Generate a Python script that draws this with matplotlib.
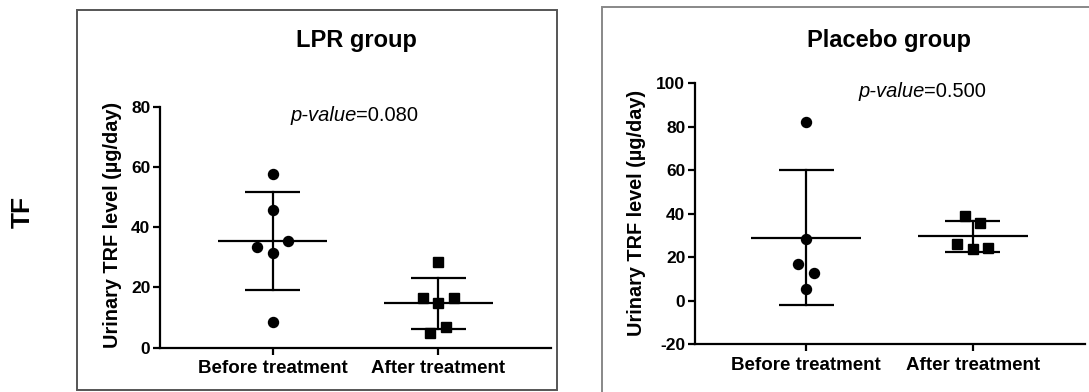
import numpy as np
import matplotlib
matplotlib.use("Agg")
import matplotlib.pyplot as plt
from matplotlib.patches import Rectangle

# ---------------- data ----------------
categories = ["Before treatment", "After treatment"]
row_label = "TF"
panel_titles = ["LPR group", "Placebo group"]
p_values = ["0.080", "0.500"]
y_label = "Urinary TRF level (\u00b5g/day)"

lpr_before = [57.5, 45.7, 33.5, 35.5, 31.3, 8.6]
lpr_after = [28.5, 16.6, 16.6, 14.7, 4.8, 7.0]
placebo_before = [82.3, 28.2, 16.7, 12.5, 5.2]
placebo_after = [38.9, 35.5, 25.9, 24.0, 23.6]

lpr_yticks = [0, 20, 40, 60, 80]
placebo_yticks = [-20, 0, 20, 40, 60, 80, 100]

# ---------------- layout ----------------
W, H = 1089, 392
plt.rcParams['font.family'] = ['Liberation Sans', 'DejaVu Sans']
fig = plt.figure(figsize=(W / 100, H / 100), dpi=100)


def fx(px):
    return px / W


def fy(py):
    return 1 - py / H


# frames around panels
fig.patches.append(Rectangle((fx(77), fy(390)), fx(557) - fx(77), fy(10) - fy(390),
                             transform=fig.transFigure, fill=False,
                             edgecolor='#555555', linewidth=1.4))
fig.patches.append(Rectangle((fx(602), fy(400)), fx(1100) - fx(602), fy(7) - fy(400),
                             transform=fig.transFigure, fill=False,
                             edgecolor='#888888', linewidth=1.4))

ax1 = fig.add_axes([fx(160), fy(347.7), fx(550.7) - fx(160), fy(106.7) - fy(347.7)])
ax2 = fig.add_axes([fx(695), fy(344), fx(1085) - fx(695), fy(83.3) - fy(344)])

panels = [
    (ax1, [lpr_before, lpr_after], (0, 80), lpr_yticks, (-0.68, 1.679)),
    (ax2, [placebo_before, placebo_after], (-20, 100), placebo_yticks, (-0.666, 1.674)),
]

markers = ['o', 's']
marker_sizes = [7.2, 6.8]
spacing_px = 15.5
overlap_px = 10.0
mean_half = 0.33
cap_half = 0.165
lw = 1.6


def swarm_offsets(vals, px_per_unit):
    vals = list(vals)
    order = sorted(range(len(vals)), key=lambda i: vals[i])
    clusters = []
    cur = [order[0]]
    for a, b in zip(order[:-1], order[1:]):
        if (vals[b] - vals[a]) * px_per_unit < overlap_px:
            cur.append(b)
        else:
            clusters.append(cur)
            cur = [b]
    clusters.append(cur)
    offs = [0.0] * len(vals)
    slots = {1: [0.0], 2: [-0.5, 0.5], 3: [-1.0, 1.0, 0.0]}
    for c in clusters:
        c_sorted = sorted(c)  # listing order
        s = slots.get(len(c), list(np.linspace(-(len(c) - 1) / 2, (len(c) - 1) / 2, len(c))))
        for idx, sl in zip(c_sorted, s):
            offs[idx] = sl
    return offs


for ax, groups, ylim, yticks, xlim in panels:
    ax.set_xlim(*xlim)
    ax.set_ylim(*ylim)
    bbox = ax.get_position()
    ax_h_px = bbox.height * H
    ax_w_px = bbox.width * W
    py_unit = ax_h_px / (ylim[1] - ylim[0])
    px_xunit = ax_w_px / (xlim[1] - xlim[0])
    for gi, vals in enumerate(groups):
        v = np.array(vals, dtype=float)
        m = v.mean()
        sd = v.std(ddof=1)
        ax.plot([gi - mean_half, gi + mean_half], [m, m], color='black', lw=lw,
                solid_capstyle='butt', zorder=2)
        ax.plot([gi, gi], [m - sd, m + sd], color='black', lw=lw, zorder=2)
        for yy in (m - sd, m + sd):
            ax.plot([gi - cap_half, gi + cap_half], [yy, yy], color='black', lw=lw,
                    solid_capstyle='butt', zorder=2)
        offs = swarm_offsets(v, py_unit)
        xs = [gi + o * spacing_px / px_xunit for o in offs]
        ax.plot(xs, v, linestyle='none', marker=markers[gi], markersize=marker_sizes[gi],
                color='black', zorder=3, clip_on=False)
    ax.set_xticks(range(len(categories)))
    ax.set_xticklabels(categories, fontsize=13.5, fontweight='bold')
    ax.set_yticks(yticks)
    ax.set_yticklabels([str(t) for t in yticks], fontsize=12.5, fontweight='bold')
    for s in ('top', 'right'):
        ax.spines[s].set_visible(False)
    for s in ('left', 'bottom'):
        ax.spines[s].set_linewidth(1.6)
    ax.tick_params(axis='y', direction='out', length=5, width=1.6, pad=2)
    ax.tick_params(axis='x', direction='out', length=5, width=1.6, pad=4)
    ax.patch.set_alpha(0)

# titles
fig.text(fx(356.7), fy(46.7), panel_titles[0], fontsize=17, fontweight='bold',
         ha='center', va='baseline')
fig.text(fx(889), fy(47), panel_titles[1], fontsize=17, fontweight='bold',
         ha='center', va='baseline')

# p-values
for (x0, yb, pv) in [(290, 121, p_values[0]), (858, 97, p_values[1])]:
    t1 = fig.text(fx(x0), fy(yb), "p-value", fontsize=14.5, fontstyle='italic',
                  ha='left', va='baseline')
    fig.canvas.draw()
    bb = t1.get_window_extent()
    fig.text(bb.x1 / W, fy(yb), "=" + pv, fontsize=14.5, ha='left', va='baseline')

# y labels
fig.text(fx(112), fy(224.5), y_label, fontsize=14.3, fontweight='bold', rotation=90,
         ha='center', va='center')
fig.text(fx(636), fy(212.5), y_label, fontsize=14.3, fontweight='bold', rotation=90,
         ha='center', va='center')

# row label
fig.text(fx(23), fy(212), row_label, fontsize=19, fontweight='bold', rotation=90,
         ha='center', va='center')

fig.savefig("out.png", dpi=100)
